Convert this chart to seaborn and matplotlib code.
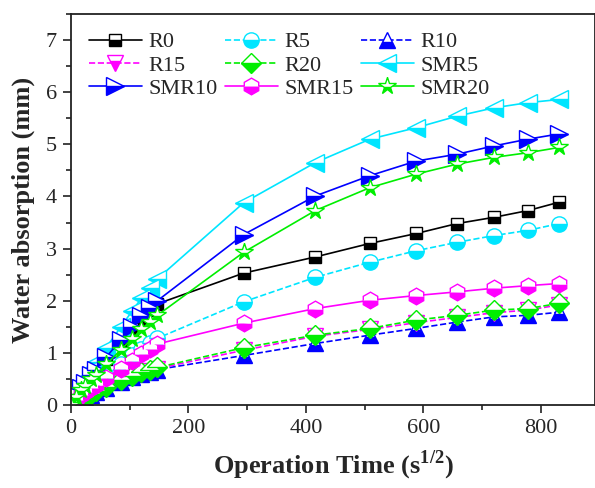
import numpy as np
import pandas as pd
import matplotlib
matplotlib.use("Agg")
import matplotlib.pyplot as plt
import seaborn as sns
from matplotlib.ticker import MultipleLocator

# sqrt of time (s^1/2)
t = [0, 7.7, 17.3, 24.5, 34.6, 42.4, 60.0, 84.9, 103.9, 120.0, 134.2, 147.0,
     294, 416, 509, 588, 657, 720, 778, 831]

R0 = [0.0, 0.18, 0.32, 0.42, 0.55, 0.65, 0.88, 1.20, 1.45, 1.65, 1.82, 1.94,
      2.53, 2.84, 3.10, 3.29, 3.48, 3.60, 3.73, 3.89]
R5 = [0.0, 0.12, 0.22, 0.28, 0.36, 0.42, 0.56, 0.78, 0.95, 1.08, 1.18, 1.28,
      1.98, 2.45, 2.74, 2.96, 3.12, 3.25, 3.35, 3.48]
R10 = [0.0, 0.05, 0.10, 0.14, 0.20, 0.25, 0.33, 0.45, 0.53, 0.59, 0.64, 0.68,
       0.95, 1.18, 1.34, 1.47, 1.59, 1.69, 1.72, 1.78]
R15 = [0.0, 0.06, 0.11, 0.15, 0.21, 0.26, 0.34, 0.46, 0.55, 0.61, 0.66, 0.70,
       1.05, 1.32, 1.45, 1.58, 1.68, 1.77, 1.82, 1.92]
R20 = [0.0, 0.06, 0.12, 0.16, 0.22, 0.27, 0.35, 0.47, 0.56, 0.63, 0.68, 0.72,
       1.10, 1.34, 1.47, 1.63, 1.72, 1.82, 1.85, 1.95]
SMR5 = [0.0, 0.25, 0.40, 0.52, 0.70, 0.82, 1.10, 1.50, 1.80, 2.05, 2.25, 2.42,
        3.88, 4.65, 5.10, 5.32, 5.54, 5.70, 5.80, 5.86]
SMR10 = [0.0, 0.20, 0.33, 0.43, 0.58, 0.68, 0.92, 1.25, 1.50, 1.70, 1.86, 2.00,
         3.27, 4.01, 4.40, 4.68, 4.81, 4.97, 5.10, 5.20]
SMR15 = [0.0, 0.10, 0.19, 0.25, 0.33, 0.39, 0.52, 0.70, 0.85, 0.97, 1.07, 1.17,
         1.57, 1.85, 2.01, 2.10, 2.17, 2.24, 2.29, 2.33]
SMR20 = [0.0, 0.16, 0.28, 0.36, 0.49, 0.58, 0.78, 1.06, 1.27, 1.45, 1.60, 1.72,
         2.93, 3.73, 4.17, 4.43, 4.62, 4.75, 4.84, 4.94]

names = ["R0", "R5", "R10", "R15", "R20", "SMR5", "SMR10", "SMR15", "SMR20"]
series = [R0, R5, R10, R15, R20, SMR5, SMR10, SMR15, SMR20]
colors = ["black", "#00E5FF", "#0000FF", "#FF00FF", "#00EE00",
          "#00E5FF", "#0000FF", "#FF00FF", "#00EE00"]
markers = ["s", "o", "^", "v", "D", "<", ">", "h", "*"]
msizes = [9, 11, 11, 11, 10, 13, 13, 12, 13]
lstyles = ["-", "--", "--", "--", "--", "-", "-", "-", "-"]

sns.set_theme(style="ticks")
plt.rcParams['font.family'] = ['Liberation Serif', 'DejaVu Serif']
plt.rcParams['mathtext.fontset'] = 'custom'
plt.rcParams['mathtext.rm'] = 'Liberation Serif'
plt.rcParams['mathtext.bf'] = 'Liberation Serif:bold'

fig = plt.figure(figsize=(5.95, 4.88), dpi=100)
ax = fig.add_axes([71 / 595, (488 - 405) / 488, (595 - 71) / 595, (405 - 14) / 488])

for name, vals, c, m, ms, ls in zip(names, series, colors, markers, msizes, lstyles):
    df = pd.DataFrame({"t": t, "v": vals})
    sns.lineplot(data=df, x="t", y="v", ax=ax, color=c, marker=m,
                 markersize=ms, linestyle=ls, linewidth=1.2,
                 fillstyle="bottom", markerfacecoloralt="white",
                 markeredgecolor=c, markeredgewidth=1.0,
                 label=name, sort=False, estimator=None)

ax.set_xlim(0, 892)
ax.set_ylim(0, 7.5)
ax.xaxis.set_major_locator(MultipleLocator(200))
ax.xaxis.set_minor_locator(MultipleLocator(100))
ax.yaxis.set_major_locator(MultipleLocator(1))
ax.yaxis.set_minor_locator(MultipleLocator(0.5))
ax.tick_params(which="major", direction="out", length=6, width=1.2,
               labelsize=16, color="#222222", pad=4)
ax.tick_params(which="minor", direction="out", length=3.5, width=1.2,
               color="#222222")
for sp in ax.spines.values():
    sp.set_linewidth(1.3)
    sp.set_color("#222222")

ax.set_xlabel("Operation Time (s$^{\\mathbf{1/2}}$)", fontsize=19,
              fontweight="bold", labelpad=8)
ax.set_ylabel("Water absorption (mm)", fontsize=19, fontweight="bold",
              labelpad=8)

handles, labels = ax.get_legend_handles_labels()
order = [0, 3, 6, 1, 4, 7, 2, 5, 8]
ax.legend([handles[i] for i in order], [labels[i] for i in order],
          loc="upper left", bbox_to_anchor=(0.0, 1.0), ncol=3, frameon=False,
          fontsize=16, handlelength=2.4, handletextpad=0.3,
          columnspacing=0.3, labelspacing=0.12, borderpad=0.3,
          borderaxespad=0.5)

fig.savefig("out.png", dpi=100)
